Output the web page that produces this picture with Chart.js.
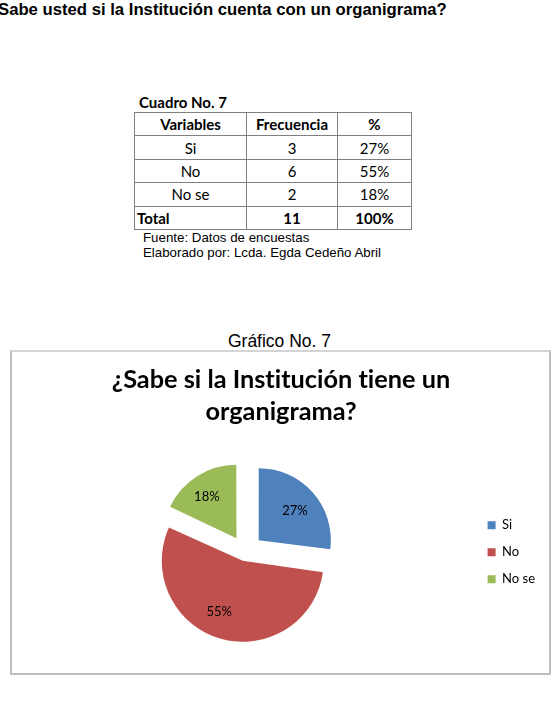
<!DOCTYPE html>
<html lang="es">
<head>
<meta charset="utf-8">
<title>Gráfico No. 7</title>
<script src="https://cdn.jsdelivr.net/npm/chart.js@4.4.1/dist/chart.umd.min.js"></script>
<style>
    html, body { margin: 0; padding: 0; background: #fff; }
    body { width: 558px; height: 710px; position: relative; overflow: hidden; color: #000;
           font-family: 'Liberation Sans', Arial, sans-serif; }
    .pregunta { position: absolute; left: -12.2px; top: 0; font-size: 16.7px; line-height: 20px;
                font-weight: bold; white-space: nowrap; }
    .cuadro-titulo { position: absolute; left: 139px; top: 93px; font-family: Lato, sans-serif;
                     font-weight: bold; font-size: 15px; line-height: 18px; }
    table.cuadro { position: absolute; left: 134px; top: 112px; border-collapse: collapse;
                   font-family: Lato, sans-serif; font-size: 15px; table-layout: fixed; }
    table.cuadro td { border: 1px solid #808080; height: 22.4px; padding: 0; text-align: center;
                      line-height: 18px; }
    table.cuadro tr.head td, table.cuadro tr.total td { font-weight: bold; }
    table.cuadro tr.total td:first-child { text-align: left; padding-left: 2px; }
    .fuente { position: absolute; left: 143px; top: 229.6px; font-size: 13.3px; line-height: 15px; }
    .grafico-titulo { position: absolute; left: 0; width: 559px; top: 331px; text-align: center;
                      font-size: 17.5px; line-height: 20px; }
    .grafico { position: absolute; left: 10px; top: 350px; width: 537px; height: 321px;
               border: 2px solid #bdbdbd; border-top-color: #d4d4d4; }
    .grafico canvas { display: block; }
</style>
</head>
<body>
<div class="pregunta">¿Sabe usted si la Institución cuenta con un organigrama?</div>

<div class="cuadro-titulo">Cuadro No. 7</div>
<table class="cuadro" id="cuadro"></table>
<div class="fuente">Fuente: Datos de encuestas<br>Elaborado por: Lcda. Egda Cedeño Abril</div>

<div class="grafico-titulo">Gráfico No. 7</div>
<div class="grafico"><canvas id="grafico7" width="537" height="321"></canvas></div>

<script>
'use strict';

// datos del cuadro / gráfico
const categorias = ['Si', 'No', 'No se'];
const frecuencias = [3, 6, 2];
const porcentajes = [27, 55, 18];
const totalFrecuencia = 11;
const totalPorcentaje = 100;

const colores = ['#4F81BD', '#C0504D', '#9BBB59'];

// separación de cada porción (px) y posición de las etiquetas
const EXPLOSION = 18;
const POS_ETIQUETAS = [
    { r: 0.65, giro: 2 },
    { r: 0.66, giro: 10 },
    { r: 0.69, giro: -3 }
];

function renderCuadro() {
    const filas = categorias.map((cat, i) => `
        <tr><td>${cat}</td><td>${frecuencias[i]}</td><td>${porcentajes[i]}%</td></tr>`).join('');
    document.getElementById('cuadro').innerHTML = `
        <colgroup><col style="width:112px"><col style="width:91px"><col style="width:74px"></colgroup>
        <tr class="head"><td>Variables</td><td>Frecuencia</td><td>%</td></tr>
        ${filas}
        <tr class="total"><td>Total</td><td>${totalFrecuencia}</td><td>${totalPorcentaje}%</td></tr>`;
}

// offset que Chart.js necesita para mover cada porción EXPLOSION px
function offsetPorcion(ctx) {
    const valores = ctx.dataset.data;
    const total = valores.reduce((a, b) => a + b, 0);
    const circ = 2 * Math.PI * valores[ctx.dataIndex] / total;
    const fix = 1 - Math.sin(Math.min(Math.PI, circ));
    return 4 * EXPLOSION / (1 + fix);
}

// sin ligaduras (Lato une "ti")
const sinLigaduras = {
    id: 'sinLigaduras',
    beforeDraw(chart) {
        chart.ctx.textRendering = 'optimizeSpeed';
    }
};

const etiquetasPorcentaje = {
    id: 'etiquetasPorcentaje',
    afterDatasetsDraw(chart) {
        const { ctx } = chart;
        const meta = chart.getDatasetMeta(0);
        ctx.save();
        ctx.font = '13px Lato, sans-serif';
        ctx.fillStyle = '#000';
        ctx.textAlign = 'center';
        ctx.textBaseline = 'middle';
        meta.data.forEach((arc, i) => {
            const p = arc.getProps(['x', 'y', 'startAngle', 'endAngle', 'outerRadius', 'circumference'], true);
            const mid = (p.startAngle + p.endAngle) / 2;
            const off = arc.options.offset / 4;
            const fix = 1 - Math.sin(Math.min(Math.PI, p.circumference));
            const shift = off * (1 + fix);
            const pos = POS_ETIQUETAS[i];
            const a = mid + pos.giro * Math.PI / 180;
            const x = p.x + Math.cos(mid) * shift + Math.cos(a) * pos.r * p.outerRadius;
            const y = p.y + Math.sin(mid) * shift + Math.sin(a) * pos.r * p.outerRadius;
            ctx.fillText(`${porcentajes[i]}%`, x, y);
        });
        ctx.restore();
    }
};

renderCuadro();

new Chart(document.getElementById('grafico7'), {
    type: 'pie',
    data: {
        labels: categorias,
        datasets: [{
            data: porcentajes,
            backgroundColor: colores,
            borderWidth: 0,
            offset: offsetPorcion,
            hoverOffset: 0,
            clip: false
        }]
    },
    options: {
        responsive: false,
        animation: false,
        radius: 72,
        layout: { padding: { left: 5, right: 4, top: 0, bottom: 1 } },
        plugins: {
            title: {
                display: true,
                text: ['¿Sabe si la Institución tiene un', 'organigrama?'],
                color: '#000',
                font: { family: 'Lato', weight: 'bold', size: 25.3, lineHeight: 1.27 },
                padding: { top: 12, bottom: 4 }
            },
            legend: {
                position: 'right',
                align: 'center',
                fullSize: false,
                labels: {
                    color: '#000',
                    boxWidth: 8,
                    boxHeight: 8,
                    padding: 14,
                    font: { family: 'Lato', size: 13 }
                }
            },
            tooltip: { enabled: false }
        },
        events: []
    },
    plugins: [sinLigaduras, etiquetasPorcentaje]
});
</script>
</body>
</html>
